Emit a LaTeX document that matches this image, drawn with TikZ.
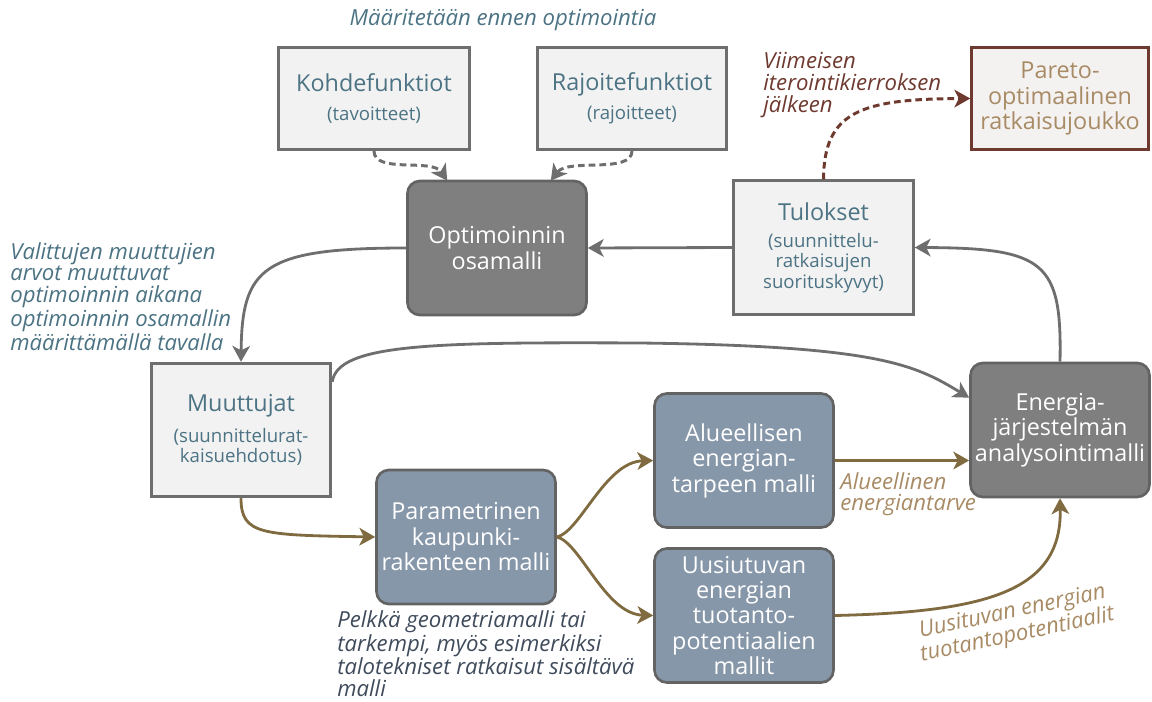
\documentclass[tikz,border=0pt]{standalone}
\usepackage{fontspec}
\setmainfont{Open Sans}
\newfontfamily\labfont{Open Sans}
\usetikzlibrary{arrows.meta,calc}

\definecolor{boxline}{HTML}{6E6E6E}
\definecolor{lightfill}{HTML}{F2F2F2}
\definecolor{darkfill}{HTML}{7F7F7F}
\definecolor{darkline}{HTML}{636363}
\definecolor{bluefill}{HTML}{8797AA}
\definecolor{bluetext}{HTML}{4C7384}
\definecolor{goldline}{HTML}{806A3F}
\definecolor{tantext}{HTML}{A88B65}
\definecolor{brownline}{HTML}{6E3A30}
\definecolor{parfill}{HTML}{F4F1F1}
\definecolor{slatetext}{HTML}{3F4B5B}

\newcommand{\ttlsize}{\fontsize{13.3}{14.5}\selectfont}
\newcommand{\subsize}{\fontsize{10.6}{11.6}\selectfont}

\tikzset{
  titlefont/.style={font=\ttlsize},
  lightbox/.style={draw=boxline, line width=1.7pt, fill=lightfill, text=bluetext,
    align=center, inner sep=2pt, font=\subsize},
  darkbox/.style={draw=darkline, line width=1.5pt, fill=darkfill, text=white,
    rounded corners=7pt, align=center, inner sep=2pt, titlefont,
    minimum width=3.58cm, minimum height=2.68cm},
  bluebox/.style={darkbox, fill=bluefill},
  midsize/.style={minimum width=3.59cm, minimum height=2.67cm},
  topsize/.style={minimum width=3.8cm, minimum height=2.04cm},
  label/.style={font=\labfont\itshape\fontsize{12.6}{12.4}\selectfont, align=left, inner sep=0pt},
  tip/.style={-{Stealth[length=9pt,width=10pt,inset=2.5pt]}},
  grayarrow/.style={tip, draw=boxline, line width=1.6pt},
  goldarrow/.style={tip, draw=goldline, line width=1.6pt},
  dasharrow/.style={tip, line width=1.7pt, dash pattern=on 3.8pt off 2.3pt},
}

\begin{document}
\begin{tikzpicture}[x=0.02cm,y=-0.02cm]
\useasboundingbox (0,0) rectangle (1152,702);

% optimisation definitions
\node[lightbox, topsize, minimum width=3.82cm] (koh) at (374,98.5)
  {{\ttlsize Kohdefunktiot}\\[5pt](tavoitteet)};
\node[lightbox, topsize] (raj) at (632,98.5)
  {{\ttlsize Rajoitefunktiot}\\[5pt](rajoitteet)};
\node[lightbox, draw=brownline, fill=parfill, text=tantext, titlefont,
  minimum width=3.53cm, minimum height=2.03cm] (par) at (1060,98.5)
  {Pareto-\\optimaalinen\\ratkaisujoukko};

% optimisation loop
\node[darkbox] (opt) at (497,248) {Optimoinnin\\osamalli};
\node[lightbox, midsize] (tul) at (823.5,247.5)
  {{\ttlsize Tulokset}\\[4pt](suunnittelu-\\ratkaisujen\\suorituskyvyt)};
\node[lightbox, midsize] (muu) at (241,430)
  {{\ttlsize Muuttujat}\\[6pt](suunnittelurat-\\kaisuehdotus)};
\node[darkbox] (ene) at (1060,430) {Energia-\\järjestelmän\\analysointimalli};

% sub-models
\node[bluebox] (pkm) at (466,537) {Parametrinen\\kaupunki-\\rakenteen malli};
\node[bluebox] (alu) at (744,460.5) {Alueellisen\\energian-\\tarpeen malli};
\node[bluebox] (uus) at (744,615.5) {Uusiutuvan\\energian\\tuotanto-\\potentiaalien\\mallit};

% labels
\node[label, text=bluetext, anchor=center] (lbtop) at (503,20) {Määritetään ennen optimointia};
\node[label, text=bluetext, anchor=north west] (lbleft) at (10,242)
  {Valittujen muuttujien\\arvot muuttuvat\\optimoinnin aikana\\optimoinnin osamallin\\määrittämällä tavalla};
\node[label, text=brownline, anchor=north west] (lbpar) at (763,52)
  {Viimeisen\\iterointikierroksen\\jälkeen};
\node[label, text=tantext, anchor=north west] (lbalu) at (840,472)
  {Alueellinen\\energiantarve};
\node[label, text=slatetext, anchor=north west] (lbpkm) at (337,610)
  {Pelkkä geometriamalli tai\\tarkempi, myös esimerkiksi\\talotekniset ratkaisut sisältävä\\malli};
\node[label, text=tantext, align=center, rotate=12,
  font=\labfont\itshape\fontsize{12.6}{13.4}\selectfont] (lbuus) at (1015,624)
  {Uusituvan energian\\tuotantopotentiaalit};

% dashed inputs
\draw[dasharrow, draw=boxline] (koh.south)
  .. controls (374,174) and (432,158) .. ($(opt.north west)+(41,1)$);
\draw[dasharrow, draw=boxline] (raj.south)
  .. controls (632,174) and (568,158) .. ($(opt.north east)+(-37,1)$);
\draw[dasharrow, draw=brownline] (tul.north)
  .. controls (824,112) and (860,99) .. (par.west);

% gray loop
\draw[grayarrow] (tul.west) -- (opt.east);
\draw[grayarrow] (ene.north)
  .. controls (1062,262) and (1045,248) .. (tul.east);
\draw[grayarrow] (opt.west)
  .. controls (262,248) and (242,268) .. (muu.north);
\draw[grayarrow] ($(muu.north east)+(0,20)$)
  .. controls (338,344) and (430,342) .. (640,343)
  .. controls (880,346) and (915,365) .. ($(ene.north west)+(0,36)$);

% model chain
\draw[goldarrow] (muu.south)
  .. controls (241,535) and (262,535) .. (pkm.west);
\draw[goldarrow] (pkm.east)
  .. controls (580,532) and (605,462) .. (alu.west);
\draw[goldarrow] (pkm.east)
  .. controls (580,542) and (605,614) .. (uus.west);
\draw[goldarrow] (alu.east) -- (alu.east -| ene.west);
\draw[goldarrow] (uus.east)
  .. controls (990,612) and (1062,590) .. (ene.south);
\end{tikzpicture}
\end{document}
